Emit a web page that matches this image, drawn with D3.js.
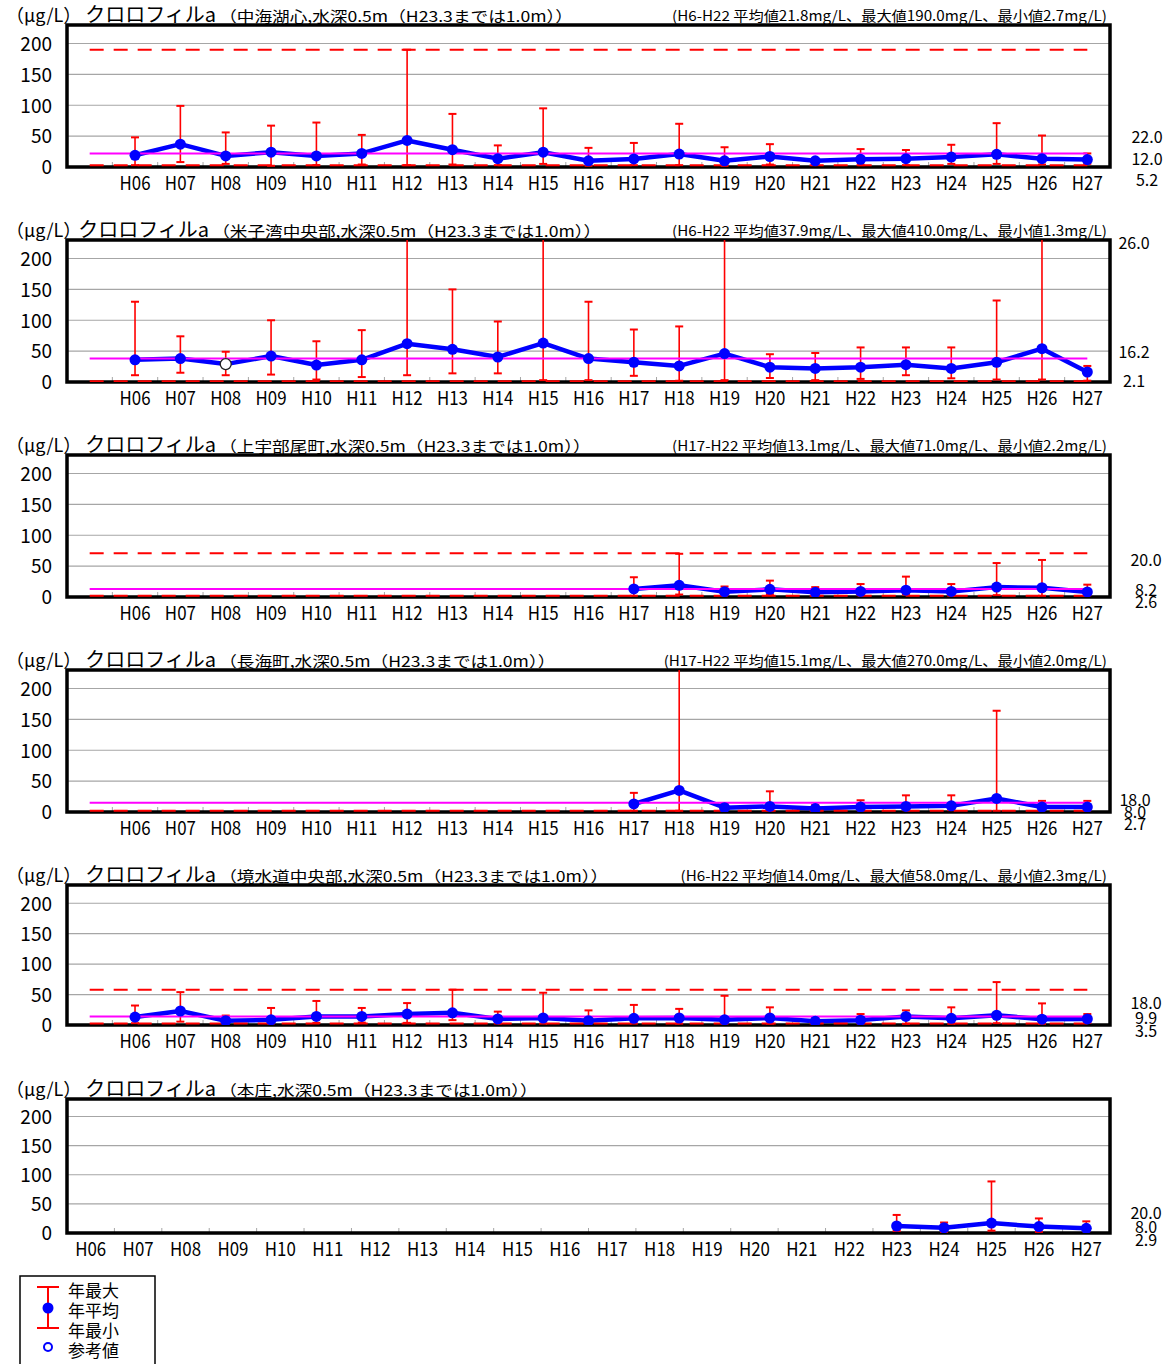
<!DOCTYPE html>
<html><head><meta charset="utf-8">
<script src="https://cdn.jsdelivr.net/npm/d3@7"></script>
<style>body{margin:0;background:#fff}</style>
</head><body><svg id="c" width="1170" height="1364"></svg>
<script>
// ---------- DATA ----------
const years = ["H06","H07","H08","H09","H10","H11","H12","H13","H14","H15","H16","H17","H18","H19","H20","H21","H22","H23","H24","H25","H26","H27"];
const yTickValues = [0, 50, 100, 150, 200];
const unitLabel = "（μg/L）";
const paramLabel = "クロロフィルa";
const depthNote = ",水深0.5m（H23.3までは1.0m））";
const legendLabels = ["年最大", "年平均", "年最小", "参考値"];

// 中海湖心
const site1 = "中海湖心";
const max1  = [48, 99, 56, 67, 72, 52, 190, 86, 35, 95, 31, 39, 70, 32, 37, 13, 29, 27.5, 36, 71, 51, 22.0];
const mean1 = [19, 37, 18, 24, 18, 22, 43, 28, 13.5, 24, 10, 13, 21, 10, 17, 10, 12.5, 13.5, 16, 20.5, 13.5, 12.0];
const min1  = [3, 8, 5, 2, 3, 4, 3, 4, 3, 5, 2, 3, 3, 2, 4, 4, 3, 3, 5, 5, 4, 5.2];
const ref1  = [];
const stats1 = {text: "(H6-H22 平均値21.8mg/L、最大値190.0mg/L、最小値2.7mg/L)", mean: 21.8, max: 190.0, min: 2.7};
const last1 = ["22.0", "12.0", "5.2"];

// 米子湾中央部
const site2 = "米子湾中央部";
const max2  = [130, 74, 49, 100, 66, 84, 280, 150, 98, 410, 130, 85, 90, 300, 45, 47, 56, 56, 56, 132, 250, 26.0];
const mean2 = [36, 38, 29, 42, 27.5, 36, 62, 53, 40.5, 63, 38, 32, 26, 46, 24, 22, 24, 28, 22, 32, 54, 16.2];
const min2  = [11, 15, 11, 12, 4, 8, 11, 14, 14, 3, 3, 10, 2, 3, 6.5, 3, 5, 11, 6, 4, 4, 2.1];
const ref2  = ["H08"];
const stats2 = {text: "(H6-H22 平均値37.9mg/L、最大値410.0mg/L、最小値1.3mg/L)", mean: 37.9, max: 410.0, min: 1.3};
const last2 = ["26.0", "16.2", "2.1"];

// 上宇部尾町
const site3 = "上宇部尾町";
const max3  = [null, null, null, null, null, null, null, null, null, null, null, 32, 70, 17, 26.5, 16, 21, 33, 21, 55, 60, 20.0];
const mean3 = [null, null, null, null, null, null, null, null, null, null, null, 13, 19, 8.6, 12.4, 7.6, 9, 11, 9, 16, 15, 8.2];
const min3  = [null, null, null, null, null, null, null, null, null, null, null, 2, 4, 3, 4, 2.2, 3, 4, 2, 3, 2, 2.6];
const ref3  = [];
const stats3 = {text: "(H17-H22 平均値13.1mg/L、最大値71.0mg/L、最小値2.2mg/L)", mean: 13.1, max: 71.0, min: 2.2};
const last3 = ["20.0", "8.2", "2.6"];

// 長海町
const site4 = "長海町";
const max4  = [null, null, null, null, null, null, null, null, null, null, null, 31, 270, 14, 33.5, 11.5, 19, 27, 27, 164, 18, 18.0];
const mean4 = [null, null, null, null, null, null, null, null, null, null, null, 13, 35, 7, 9, 5.5, 8, 9, 10, 22, 8, 8.0];
const min4  = [null, null, null, null, null, null, null, null, null, null, null, 2, 2, 4, 3, 2, 3, 3, 3, 2, 3, 2.7];
const ref4  = [];
const stats4 = {text: "(H17-H22 平均値15.1mg/L、最大値270.0mg/L、最小値2.0mg/L)", mean: 15.1, max: 270.0, min: 2.0};
const last4 = ["18.0", "8.0", "2.7"];

// 境水道中央部
const site5 = "境水道中央部";
const max5  = [32, 54, 15.5, 28, 39.5, 28, 36, 58, 22, 53, 24, 33, 26.5, 48, 29, 12, 18, 24, 29, 70.5, 35.5, 18.0];
const mean5 = [13, 23, 7, 8.5, 14, 14, 18, 20, 10, 11.5, 7, 11, 11.5, 8.5, 11.5, 6, 8, 14, 11, 16, 9.5, 9.9];
const min5  = [3, 5.5, 3, 2.5, 3.5, 4, 3.5, 8, 2.5, 2.3, 2.3, 2.3, 2.3, 2.3, 2.3, 2.5, 2.3, 2, 2, 3, 2, 3.5];
const ref5  = [];
const stats5 = {text: "(H6-H22 平均値14.0mg/L、最大値58.0mg/L、最小値2.3mg/L)", mean: 14.0, max: 58.0, min: 2.3};
const last5 = ["18.0", "9.9", "3.5"];

// 本庄
const site6 = "本庄";
const max6  = [null, null, null, null, null, null, null, null, null, null, null, null, null, null, null, null, null, 31, 18, 88.5, 25, 20.0];
const mean6 = [null, null, null, null, null, null, null, null, null, null, null, null, null, null, null, null, null, 12, 9, 17, 11, 8.0];
const min6  = [null, null, null, null, null, null, null, null, null, null, null, null, null, null, null, null, null, 3.5, 2, 4, 2, 2.9];
const ref6  = [];
const stats6 = null;
const last6 = ["20.0", "8.0", "2.9"];

// ---------- LAYOUT ----------
const FONT = "'Noto Sans CJK JP','Noto Sans',sans-serif";
const X0 = 67, X1 = 1110, YMAX = 230;
const panels = [
  {site: site1, max: max1, mean: mean1, min: min1, ref: ref1, stats: stats1, last: last1, lead: true,  top: 25,   h: 142, gap: true,  lx: 1147, ldy: [-30, -8, 13]},
  {site: site2, max: max2, mean: mean2, min: min2, ref: ref2, stats: stats2, last: last2, lead: true,  top: 240,  h: 142, gap: false, lx: 1134, ldy: [-139, -30, -1]},
  {site: site3, max: max3, mean: mean3, min: min3, ref: ref3, stats: stats3, last: last3, lead: true,  top: 455,  h: 142, gap: true,  lx: 1146, ldy: [-37, -7, 5]},
  {site: site4, max: max4, mean: mean4, min: min4, ref: ref4, stats: stats4, last: last4, lead: true,  top: 670,  h: 142, gap: true,  lx: 1135, ldy: [-12, 0, 12]},
  {site: site5, max: max5, mean: mean5, min: min5, ref: ref5, stats: stats5, last: last5, lead: true,  top: 885,  h: 140, gap: true,  lx: 1146, ldy: [-22, -7, 6]},
  {site: site6, max: max6, mean: mean6, min: min6, ref: ref6, stats: stats6, last: last6, lead: false, top: 1099, h: 134, gap: true,  lx: 1146, ldy: [-20, -6, 7]}
];

const svg = d3.select("#c").style("font-family", FONT);

panels.forEach((p, pi) => {
  const g = svg.append("g");
  const cats = p.lead ? [""].concat(years) : years.slice();
  const x = d3.scaleBand().domain(cats).range([X0, X1]);
  const bw = x.bandwidth();
  const cx = c => x(c) + bw / 2;
  const bottom = p.top + p.h;
  const y = d3.scaleLinear().domain([0, YMAX]).range([bottom, p.top]);

  const clipId = "clip" + pi;
  svg.append("defs").append("clipPath").attr("id", clipId)
    .append("rect").attr("x", X0).attr("y", p.top).attr("width", X1 - X0).attr("height", p.h);

  // gridlines
  g.selectAll("line.grid").data(yTickValues.filter(v => v > 0)).join("line")
    .attr("x1", X0).attr("x2", X1).attr("y1", d => y(d)).attr("y2", d => y(d))
    .attr("stroke", "#a6a6a6").attr("stroke-width", 1.2);

  // small category ticks
  g.selectAll("line.ct").data(cats.slice(1)).join("line")
    .attr("x1", d => x(d)).attr("x2", d => x(d)).attr("y1", bottom).attr("y2", bottom - 5)
    .attr("stroke", "#a6a6a6").attr("stroke-width", 1);

  // y axis labels
  const ya = g.append("g").attr("transform", `translate(${X0},0)`)
    .call(d3.axisLeft(y).tickValues(yTickValues).tickSize(0).tickPadding(15));
  ya.select(".domain").remove();
  ya.selectAll("text").attr("font-family", FONT).attr("font-size", 19).attr("fill", "#000").attr("dy", "0.36em");

  // x axis labels
  const xa = g.append("g").attr("transform", `translate(0,${bottom})`)
    .call(d3.axisBottom(x).tickSize(0).tickPadding(9));
  xa.select(".domain").remove();
  xa.selectAll("text").attr("font-family", FONT).attr("font-size", 19).attr("fill", "#000")
    .attr("dy", "0.72em")
    .filter(d => d !== "")
    .attr("textLength", 31).attr("lengthAdjust", "spacingAndGlyphs");

  // frame
  g.append("rect").attr("x", X0).attr("y", p.top).attr("width", X1 - X0).attr("height", p.h)
    .attr("fill", "none").attr("stroke", "#000").attr("stroke-width", 3.5);

  const rows = years.map((yr, i) => ({yr, max: p.max[i], mean: p.mean[i], min: p.min[i], ref: p.ref.includes(yr)}));
  const dg = g.append("g").attr("clip-path", `url(#${clipId})`);

  // error bars
  const eb = rows.filter(r => r.max != null && r.min != null);
  dg.selectAll("line.eb").data(eb).join("line")
    .attr("x1", d => cx(d.yr)).attr("x2", d => cx(d.yr))
    .attr("y1", d => y(d.max)).attr("y2", d => y(d.min))
    .attr("stroke", "#ff0000").attr("stroke-width", 1.6);
  ["max", "min"].forEach(k => {
    dg.selectAll("line.cap" + k).data(eb).join("line")
      .attr("x1", d => cx(d.yr) - 4).attr("x2", d => cx(d.yr) + 4)
      .attr("y1", d => y(d[k])).attr("y2", d => y(d[k]))
      .attr("stroke", "#ff0000").attr("stroke-width", 2);
  });

  // mean line
  const line = d3.line().defined(d => d.mean != null).x(d => cx(d.yr)).y(d => y(d.mean));
  dg.append("path").datum(rows).attr("d", line).attr("fill", "none")
    .attr("stroke", "#0000ff").attr("stroke-width", 4.5).attr("stroke-linejoin", "round");

  // reference lines (mean, max, min)
  if (p.stats) {
    const xs = cx(cats[0]), xe = cx(cats[cats.length - 1]);
    dg.append("line").attr("x1", xs).attr("x2", xe).attr("y1", y(p.stats.mean)).attr("y2", y(p.stats.mean))
      .attr("stroke", "#ff00ff").attr("stroke-width", 2);
    [p.stats.max, p.stats.min].forEach(v => {
      dg.append("line").attr("x1", xs).attr("x2", xe).attr("y1", y(v)).attr("y2", y(v))
        .attr("stroke", "#ff0000").attr("stroke-width", 2).attr("stroke-dasharray", "14,10");
    });
  }

  // dots
  dg.selectAll("circle").data(rows.filter(d => d.mean != null)).join("circle")
    .attr("cx", d => cx(d.yr)).attr("cy", d => y(d.mean)).attr("r", 5.5)
    .attr("fill", d => d.ref ? "#fff" : "#0000ff")
    .attr("stroke", d => d.ref ? "#222" : "none").attr("stroke-width", 1.3);

  // title
  const t = g.append("text").attr("x", 6).attr("y", p.top - 3).attr("fill", "#000");
  t.append("tspan").attr("font-size", 18).text(unitLabel);
  t.append("tspan").attr("font-size", 20).attr("dx", p.gap ? 4 : -3).text(paramLabel);
  const tb = t.node().getBBox();
  const sub = g.append("text").attr("x", tb.x + tb.width + 3).attr("y", p.top - 3)
    .attr("font-size", 15).attr("fill", "#000").text("（" + p.site + depthNote);
  const sw = sub.node().getComputedTextLength();
  sub.attr("textLength", sw * 1.175).attr("lengthAdjust", "spacingAndGlyphs");

  if (p.stats) {
    const hd = g.append("text").attr("x", 1107).attr("y", p.top - 4).attr("text-anchor", "end")
      .attr("font-size", 14).attr("fill", "#000").text(p.stats.text);
    const hw = hd.node().getComputedTextLength();
    hd.attr("textLength", hw * 1.085).attr("lengthAdjust", "spacingAndGlyphs");
  }

  // last-year labels
  g.selectAll("text.last").data(p.last).join("text")
    .attr("x", p.lx).attr("y", (d, i) => bottom + p.ldy[i])
    .attr("dy", "0.36em").attr("text-anchor", "middle").attr("font-size", 16).attr("fill", "#000")
    .text(d => d);
});

// legend
const lg = svg.append("g");
lg.append("rect").attr("x", 20).attr("y", 1276).attr("width", 135).attr("height", 120)
  .attr("fill", "#fff").attr("stroke", "#000").attr("stroke-width", 1.5);
lg.append("line").attr("x1", 48).attr("x2", 48).attr("y1", 1287).attr("y2", 1328).attr("stroke", "#ff0000").attr("stroke-width", 2);
[1287, 1328].forEach(v => lg.append("line").attr("x1", 37).attr("x2", 59).attr("y1", v).attr("y2", v).attr("stroke", "#ff0000").attr("stroke-width", 2));
lg.append("circle").attr("cx", 48).attr("cy", 1308).attr("r", 5.5).attr("fill", "#0000ff");
lg.append("circle").attr("cx", 48).attr("cy", 1347).attr("r", 4).attr("fill", "#fff").attr("stroke", "#0000ff").attr("stroke-width", 2);
lg.selectAll("text").data(legendLabels).join("text")
  .attr("x", 68).attr("y", (d, i) => 1297 + i * 20).attr("font-size", 17).attr("fill", "#000").text(d => d);
</script>
</body></html>
